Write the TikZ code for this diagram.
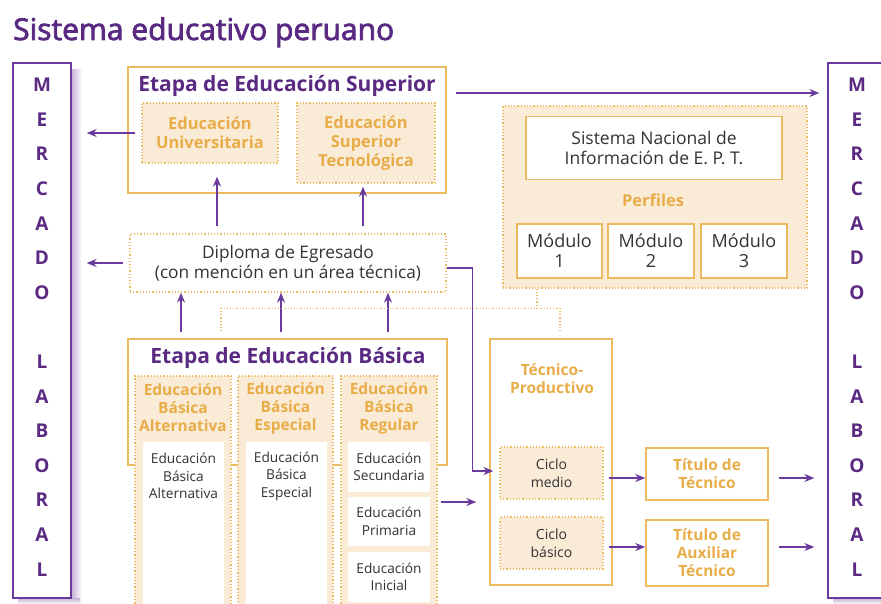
\documentclass[tikz,border=0pt]{standalone}
\usepackage{fontspec}
\setmainfont{Open Sans}
\newfontfamily\titlef{Open Sans}[FakeBold=2.5]
\usetikzlibrary{arrows.meta,calc}
\definecolor{pur}{HTML}{5A2A82}
\definecolor{lpur}{HTML}{6A3A9C}
\definecolor{org}{HTML}{EDBB5F}
\definecolor{otx}{HTML}{E8AD48}
\definecolor{tanf}{HTML}{FAEBD7}
\definecolor{gtx}{HTML}{333333}
\newcommand{\fs}[2]{\fontsize{#1}{#2}\selectfont}
\begin{document}
\begin{tikzpicture}[x=1pt,y=-1pt,
  box/.style={draw=org, line width=1.4pt, fill=white, inner sep=0pt},
  dbox/.style={draw=org, dash pattern=on 1.2pt off 2pt, line width=1.3pt, fill=tanf, inner sep=0pt},
  wbox/.style={draw=none, fill=white, inner sep=0pt},
  merc/.style={draw=lpur, line width=1.3pt, fill=white, inner sep=0pt},
  mtext/.style={text=pur, font=\bfseries\fs{19}{20}, inner sep=0pt},
  arr/.style={draw=lpur, line width=1.4pt, -{Stealth[length=10pt,width=8pt]}},
  dotl/.style={draw=org, dash pattern=on 1.2pt off 2pt, line width=1.3pt},
  otext/.style={text=otx, font=\bfseries\fs{16.5}{19}, align=center, inner sep=0pt},
  htext/.style={text=otx, font=\bfseries\fs{15.5}{18}, align=center, inner sep=0pt},
  gtext/.style={text=gtx, font=\fs{13.7}{17.5}, align=center, inner sep=0pt},
  h1/.style={text=pur, font=\bfseries\fs{21}{24}, inner sep=0pt}]
\useasboundingbox (0,0) rectangle (881,604);
\clip (0,0) rectangle (881,604);
\fill[white] (0,0) rectangle (881,604);

% title
\node[anchor=base west, text=pur, font=\titlef\fs{30}{32}, inner sep=0pt] (title) at (13,40) {Sistema educativo peruano};

% Mercado laboral boxes
\shade[left color=lpur!40, right color=white] (71,70) rectangle (82,602);
\shade[top color=lpur!40, bottom color=white] (18,598) rectangle (80,604);
\shade[top color=lpur!40, bottom color=white] (833,598) rectangle (881,604);
\node[merc, minimum width=58, minimum height=535] (ml) at (42,330.5) {};
\node[merc, minimum width=58, minimum height=535] (mr) at (857,330.5) {};
\foreach \l/\i in {M/0,E/1,R/2,C/3,A/4,D/5,O/6,L/8,A/9,B/10,O/11,R/12,A/13,L/14}{
  \node[mtext] (ml\i) at (42,{85+34.6*\i}) {\l};
  \node[mtext] (mr\i) at (857,{85+34.6*\i}) {\l};
}

% Etapa superior
\node[box, minimum width=318, minimum height=126] (sup) at (287,130) {};
\node[h1, anchor=base] (suptit) at (287,92) {Etapa de Educación Superior};
\node[dbox, minimum width=136, minimum height=60, otext] (univ) at (210,133) {Educación\\Universitaria};
\node[dbox, minimum width=138, minimum height=80, otext] (stec) at (366,143) {Educación\\Superior\\Tecnológica};

% Diploma
\node[draw=org, dash pattern=on 1.2pt off 2pt, line width=1.3pt, fill=white, inner sep=0pt,
  minimum width=316, minimum height=58, text=gtx, font=\fs{17.3}{20}, align=center] (dip) at (288,263)
  {Diploma de Egresado\\(con mención en un área técnica)};

% SINEPT
\node[dbox, minimum width=304, minimum height=182] (snp) at (655,197) {};
\node[box, minimum width=256, minimum height=63, text=gtx, font=\fs{17.5}{19.5}, align=center] (sni) at (654,148)
  {Sistema Nacional de\\Información de E. P. T.};
\node[text=otx, font=\bfseries\fs{16.5}{18}, anchor=base, inner sep=0pt] (perf) at (653,207) {Perfiles};
\node[box, minimum width=85, minimum height=54, text=gtx, font=\fs{18}{20}, align=center] (m1) at (559.5,251) {Módulo\\1};
\node[box, minimum width=86, minimum height=54, text=gtx, font=\fs{18}{20}, align=center] (m2) at (651,251) {Módulo\\2};
\node[box, minimum width=86, minimum height=54, text=gtx, font=\fs{18}{20}, align=center] (m3) at (744,251) {Módulo\\3};

% Etapa basica
\node[box, minimum width=319, minimum height=126] (bas) at (287.5,402) {};
\node[h1, anchor=base] (bastit) at (288,363) {Etapa de Educación Básica};
\node[dbox, minimum width=96, minimum height=244] (c1) at (183,498) {};
\node[dbox, minimum width=95, minimum height=244] (c2) at (285.5,498) {};
\node[dbox, minimum width=96, minimum height=244] (c3) at (389,498) {};
\node[htext] (c1h) at (183,408) {Educación\\Básica\\Alternativa};
\node[htext] (c2h) at (285.5,408) {Educación\\Básica\\Especial};
\node[htext] (c3h) at (389,408) {Educación\\Básica\\Regular};
\node[wbox, minimum width=81, minimum height=178] (w1) at (183.5,531) {};
\node[wbox, minimum width=81, minimum height=178] (w2) at (286.5,531) {};
\node[gtext] (w1t) at (183.5,476) {Educación\\Básica\\Alternativa};
\node[gtext] (w2t) at (286.5,476) {Educación\\Básica\\Especial};
\node[wbox, minimum width=82, minimum height=50, gtext] (sec) at (389,467) {Educación\\Secundaria};
\node[wbox, minimum width=82, minimum height=49, gtext] (pri) at (389,521.5) {Educación\\Primaria};
\node[wbox, minimum width=82, minimum height=50, gtext] (ini) at (389,577) {Educación\\Inicial};

% Tecnico productivo
\node[box, minimum width=122, minimum height=246] (tec) at (551,462) {};
\node[htext] (tect) at (552,379) {Técnico-\\Productivo};
\node[dbox, minimum width=103, minimum height=52, text=gtx, font=\fs{14}{18}, align=center] (cmed) at (551.5,473) {Ciclo\\medio};
\node[dbox, minimum width=103, minimum height=52, text=gtx, font=\fs{14}{18}, align=center] (cbas) at (551.5,543) {Ciclo\\básico};
\node[box, minimum width=122, minimum height=52, htext] (t1) at (707,474) {Título de\\Técnico};
\node[box, minimum width=122, minimum height=66, htext] (t2) at (707,553) {Título de\\Auxiliar\\Técnico};

% connectors
\draw[arr] ($(sup.east |- 0,93)+(9,0)$) -- ($(mr.west |- 0,93)+(-8,0)$);
\draw[arr] ($(univ.west)+(-6,0)$) -- ($(ml.east |- univ.west)+(15,0)$);
\draw[arr] ($(dip.west)+(-6,0)$) -- ($(ml.east |- dip.west)+(15,0)$);
\draw[arr] ($(dip.north -| 217,0)+(0,-7)$) -- ($(univ.south -| 217,0)+(0,13)$);
\draw[arr] ($(dip.north -| 363,0)+(0,-7)$) -- ($(stec.south -| 363,0)+(0,3)$);
\foreach \x in {181,281,388}{
  \draw[arr] ($(bas.north -| \x,0)+(0,-6)$) -- (dip.south -| \x,0);
}
\draw[dotl] ($(bas.north -| 221,0)+(0,-7)$) |- ($(tec.north -| 560,0)+(0,-30)$) -- ($(tec.north -| 560,0)+(0,-7)$);
\draw[dotl] (snp.south -| 537,0) -- ($(snp.south -| 537,0)+(0,21)$);
\draw[arr] ($(dip.east)+(0,5)$) -- ++(26,0) |- ($(cmed.west)+(-6,-2)$);
\draw[arr] ($(c3.east |- 0,502)+(3,0)$) -- ($(tec.west |- 0,502)+(-13,0)$);
\draw[arr] ($(cmed.east |- 0,478)+(5,0)$) -- (t1.west |- 0,478);
\draw[arr] ($(cbas.east |- 0,547)+(5,0)$) -- (t2.west |- 0,547);
\draw[arr] ($(t1.east |- 0,478)+(10,0)$) -- ($(mr.west |- 0,478)+(-13,0)$);
\draw[arr] ($(t2.east |- 0,547)+(10,0)$) -- ($(mr.west |- 0,547)+(-13,0)$);
\end{tikzpicture}
\end{document}
